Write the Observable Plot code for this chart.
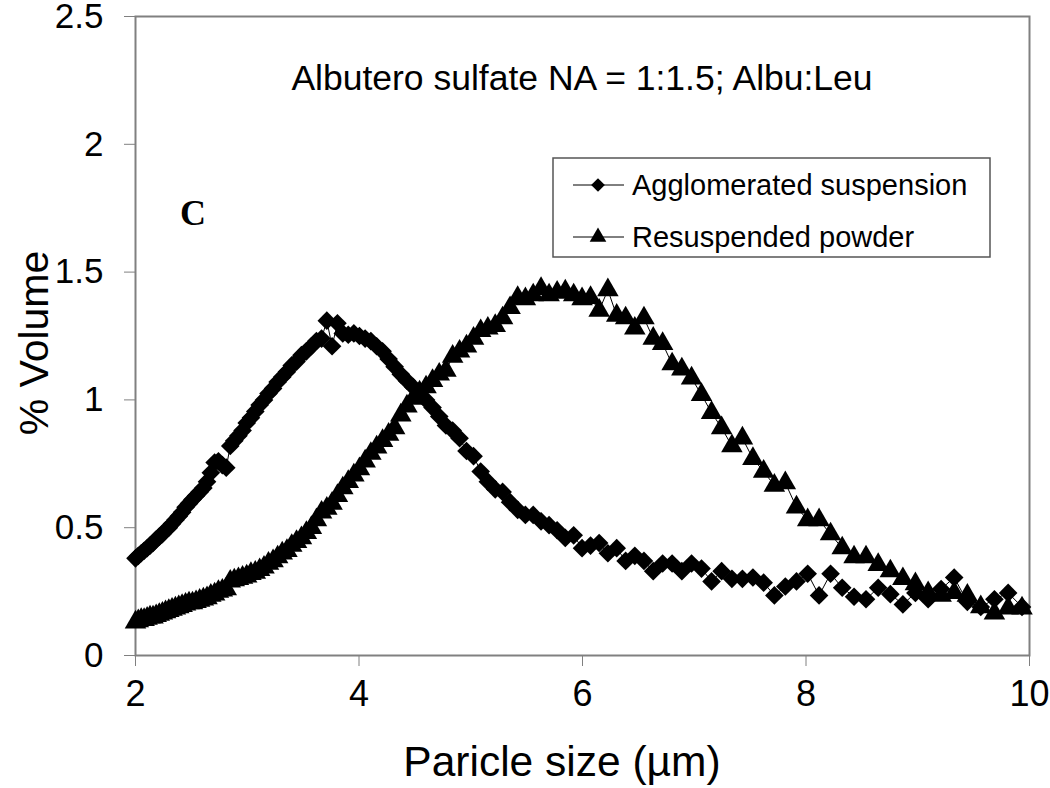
<!DOCTYPE html>
<html><head><meta charset="utf-8">
<script src="https://cdn.jsdelivr.net/npm/d3@7"></script>
<script src="https://cdn.jsdelivr.net/npm/@observablehq/plot@0.6"></script>
<style>body{margin:0;background:#fff} svg{display:block}</style>
</head><body><div id="chart"></div>
<script>
const sizes = [
2.000,2.025,2.051,2.077,2.104,2.130,2.157,2.185,2.213,2.241,
2.269,2.298,2.327,2.357,2.387,2.417,2.448,2.479,2.510,2.542,
2.574,2.607,2.640,2.674,2.708,2.742,2.777,2.812,2.848,2.884,
2.921,2.958,2.995,3.033,3.072,3.111,3.150,3.190,3.231,3.272,
3.313,3.355,3.398,3.441,3.485,3.529,3.574,3.619,3.665,3.712,
3.759,3.807,3.855,3.904,3.954,4.004,4.055,4.106,4.158,4.211,
4.265,4.319,4.374,4.429,4.485,4.542,4.600,4.658,4.718,4.778,
4.838,4.900,4.962,5.025,5.089,5.153,5.219,5.285,5.352,5.420,
5.489,5.559,5.629,5.701,5.773,5.846,5.921,5.996,6.072,6.149,
6.227,6.306,6.386,6.468,6.550,6.633,6.717,6.802,6.889,6.976,
7.065,7.155,7.245,7.337,7.431,7.525,7.621,7.717,7.815,7.915,
8.015,8.117,8.220,8.324,8.430,8.537,8.646,8.755,8.867,8.979,
9.093,9.209,9.326,9.444,9.564,9.686,9.809,9.933];

const aggVolume = [
0.38,0.39,0.40,0.41,0.42,0.43,0.44,0.455,0.465,0.475,
0.49,0.50,0.515,0.53,0.545,0.56,0.58,0.595,0.61,0.625,
0.64,0.655,0.68,0.715,0.755,0.76,0.745,0.735,0.82,0.84,
0.86,0.88,0.91,0.93,0.955,0.98,1.00,1.025,1.045,1.07,
1.09,1.11,1.135,1.15,1.175,1.19,1.21,1.23,1.24,1.31,
1.21,1.30,1.26,1.255,1.26,1.25,1.24,1.23,1.21,1.19,
1.16,1.13,1.10,1.075,1.05,1.02,1.00,0.97,0.935,0.90,
0.88,0.85,0.80,0.78,0.72,0.68,0.65,0.64,0.60,0.57,
0.55,0.55,0.525,0.51,0.49,0.46,0.47,0.42,0.43,0.44,
0.40,0.42,0.37,0.39,0.37,0.33,0.36,0.36,0.33,0.36,
0.34,0.29,0.33,0.30,0.30,0.305,0.285,0.235,0.27,0.29,
0.32,0.235,0.32,0.265,0.23,0.22,0.265,0.24,0.20,0.245,
0.22,0.26,0.305,0.21,0.19,0.22,0.245,0.19];

const resVolume = [
0.13,0.135,0.14,0.14,0.145,0.15,0.15,0.155,0.16,0.165,
0.17,0.175,0.18,0.185,0.19,0.195,0.20,0.205,0.205,0.21,
0.215,0.22,0.225,0.235,0.24,0.25,0.255,0.26,0.29,0.295,
0.30,0.305,0.31,0.32,0.325,0.335,0.345,0.36,0.37,0.385,
0.40,0.41,0.43,0.445,0.46,0.48,0.50,0.53,0.56,0.575,
0.595,0.625,0.655,0.68,0.705,0.73,0.76,0.79,0.815,0.84,
0.865,0.89,0.94,0.975,1.005,1.03,1.05,1.075,1.10,1.115,
1.17,1.19,1.21,1.24,1.27,1.28,1.29,1.32,1.36,1.40,
1.395,1.41,1.435,1.41,1.42,1.425,1.41,1.395,1.40,1.35,
1.43,1.33,1.32,1.28,1.32,1.24,1.22,1.14,1.12,1.085,
1.02,0.95,0.89,0.82,0.85,0.77,0.72,0.665,0.675,0.58,
0.53,0.53,0.475,0.42,0.385,0.385,0.355,0.33,0.30,0.28,
0.245,0.235,0.245,0.235,0.19,0.165,0.185,0.185];

const xTicks = [2, 4, 6, 8, 10];
const yTicks = [0, 0.5, 1, 1.5, 2, 2.5];
const seriesNames = ["Agglomerated suspension", "Resuspended powder"];
const chartTitle = "Albutero sulfate NA = 1:1.5; Albu:Leu";
const panelLabel = "C";
const xLabel = "Paricle size (\u00b5m)";
const yLabel = "% Volume";

const agg = sizes.map((s, i) => ({size: s, vol: aggVolume[i]}));
const res = sizes.map((s, i) => ({size: s, vol: resVolume[i]}));

const grey = "#808080";
const chart = Plot.plot({
  width: 1050, height: 788,
  marginLeft: 135, marginRight: 21, marginTop: 16, marginBottom: 133,
  style: {fontFamily: "'Liberation Sans', Arial, sans-serif", background: "white", color: "black"},
  x: {domain: [2, 10]},
  y: {domain: [0, 2.5]},
  marks: [
    Plot.axisX({ticks: xTicks, tickSize: 11, tickPadding: 14, fontSize: 36, stroke: grey, label: null, tickFormat: d => String(d)}),
    Plot.axisY({ticks: yTicks, tickSize: 11, tickPadding: 21, fontSize: 35, stroke: grey, label: null, tickFormat: d => String(d)}),
    Plot.frame({stroke: grey, strokeWidth: 2}),
    Plot.line(agg, {x: "size", y: "vol", stroke: "black", strokeWidth: 1}),
    Plot.dot(agg, {x: "size", y: "vol", symbol: "diamond2", r: 8.4, fill: "black"}),
    Plot.line(res, {x: "size", y: "vol", stroke: "black", strokeWidth: 1}),
    Plot.dot(res, {x: "size", y: "vol", symbol: "triangle", r: 8, fill: "black"})
  ]
});
document.getElementById("chart").appendChild(chart);

const svg = d3.select(chart);
const ff = "'Liberation Sans', Arial, sans-serif";
svg.append("text").attr("x", 582).attr("y", 90).attr("text-anchor", "middle")
  .attr("font-family", ff).attr("font-size", 35.5).text(chartTitle);
svg.append("text").attr("x", 180).attr("y", 225).attr("text-anchor", "start")
  .attr("font-family", "'Liberation Serif', 'Times New Roman', serif").attr("font-weight", "bold")
  .attr("font-size", 36).text(panelLabel);
svg.append("text").attr("x", 562).attr("y", 776).attr("text-anchor", "middle")
  .attr("font-family", ff).attr("font-size", 42.5).text(xLabel);
svg.append("text").attr("transform", "translate(48,343) rotate(-90)").attr("text-anchor", "middle")
  .attr("font-family", ff).attr("font-size", 41).text(yLabel);

// legend
const lg = svg.append("g");
lg.append("rect").attr("x", 553).attr("y", 158).attr("width", 437).attr("height", 99)
  .attr("fill", "white").attr("stroke", "#555").attr("stroke-width", 1.5);
const rows = [
  {name: seriesNames[0], y: 185, sym: d3.symbolDiamond2, size: 120},
  {name: seriesNames[1], y: 237, sym: d3.symbolTriangle, size: 120}
];
rows.forEach(r => {
  lg.append("line").attr("x1", 573).attr("x2", 624).attr("y1", r.y).attr("y2", r.y)
    .attr("stroke", "black").attr("stroke-width", 1);
  lg.append("path").attr("d", d3.symbol(r.sym, r.size)()).attr("transform", `translate(598,${r.y})`)
    .attr("fill", "black");
  lg.append("text").attr("x", 632).attr("y", r.y + 10).attr("text-anchor", "start")
    .attr("font-family", ff).attr("font-size", 29).text(r.name);
});
</script>
</body></html>
